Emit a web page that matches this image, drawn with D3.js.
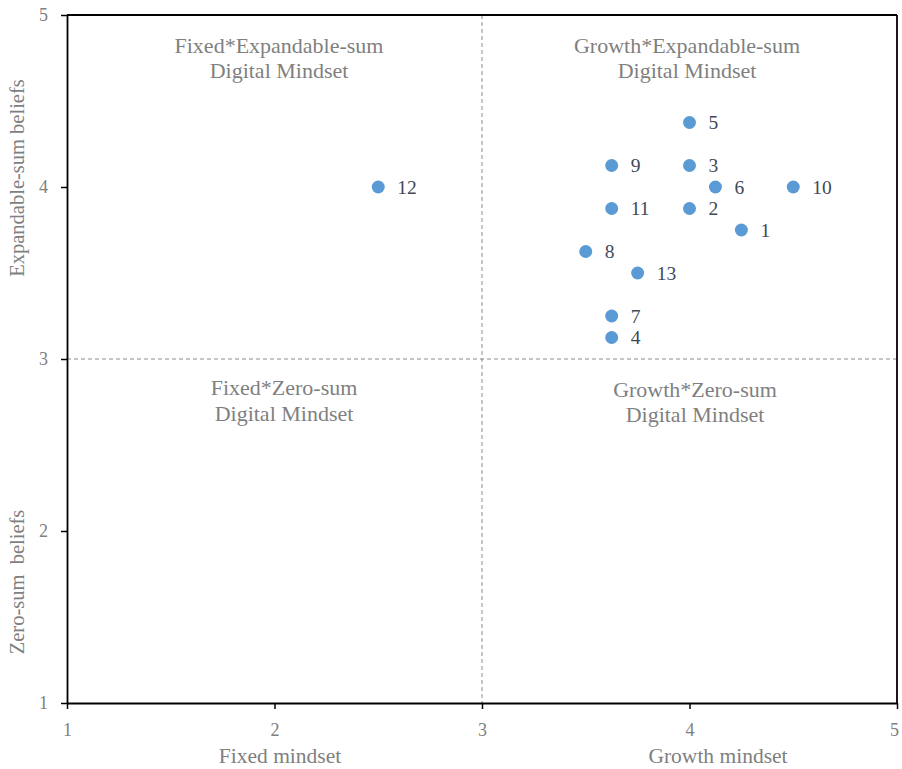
<!DOCTYPE html>
<html><head><meta charset="utf-8">
<script src="https://cdn.jsdelivr.net/npm/d3@7"></script>
<style>body{margin:0;background:#fff}svg{display:block}</style>
</head><body>
<script>
const ids = [1,2,3,4,5,6,7,8,9,10,11,12,13];
const mindsetX = [4.25,4.0,4.0,3.625,4.0,4.125,3.625,3.5,3.625,4.5,3.625,2.5,3.75];
const beliefY  = [3.75,3.875,4.125,3.125,4.375,4.0,3.25,3.625,4.125,4.0,3.875,4.0,3.5];
const tickValues = [1,2,3,4,5];
const quadrantLabels = [
  {x:2, y:4.82, lines:["Fixed*Expandable-sum","Digital Mindset"]},
  {x:4, y:4.82, lines:["Growth*Expandable-sum","Digital Mindset"]},
  {x:2, y:2.83, lines:["Fixed*Zero-sum","Digital Mindset"]},
  {x:4, y:2.82, lines:["Growth*Zero-sum","Digital Mindset"]}
];
const W=902,H=769;
const svg=d3.select("body").append("svg").attr("width",W).attr("height",H);
const x=d3.scaleLinear().domain([1,5]).range([67,897]);
const y=d3.scaleLinear().domain([1,5]).range([703,15]);
const font="'Liberation Serif','Times New Roman',serif";

// quadrant text
const qx=[279,687,284,695];
quadrantLabels.forEach((q,i)=>{
  const t=svg.append("text").attr("x",qx[i]).attr("text-anchor","middle")
    .style("font-family",font).attr("font-size",22).attr("fill","#7f7f7f");
  q.lines.forEach((l,j)=>t.append("tspan").attr("x",qx[i]).attr("y",y(q.y)+j*25.5+7).text(l));
});

// dashed lines
svg.append("line").attr("x1",x(3)).attr("x2",x(3)).attr("y1",y(5)).attr("y2",y(1))
  .attr("stroke","#8c8c8c").attr("stroke-dasharray","4,3").attr("stroke-width",1);
svg.append("line").attr("x1",x(1)).attr("x2",x(5)).attr("y1",y(3)).attr("y2",y(3))
  .attr("stroke","#8c8c8c").attr("stroke-dasharray","4,3").attr("stroke-width",1);

// axes
const fmt=d3.format("d");
const xAxis=svg.append("g").attr("transform",`translate(0,${y(1)})`)
  .call(d3.axisBottom(x).tickValues(tickValues).tickFormat(fmt).tickSize(6).tickPadding(14).tickSizeOuter(0));
const yAxis=svg.append("g").attr("transform",`translate(${x(1)},0)`)
  .call(d3.axisLeft(y).tickValues(tickValues).tickFormat(fmt).tickSize(6).tickPadding(13).tickSizeOuter(0));
[xAxis,yAxis].forEach(a=>{
  a.attr("font-family",null);
  a.select(".domain").attr("stroke","#000").attr("stroke-width",1.8);
  a.selectAll(".tick line").attr("stroke","#000").attr("stroke-width",1.5);
  a.selectAll(".tick text").style("font-family",font).attr("font-size",18).attr("fill","#808080");
});
xAxis.selectAll(".tick text").filter(d=>d===5).attr("dx",-3);
// top and right border
svg.append("line").attr("x1",x(1)).attr("x2",x(5)).attr("y1",y(5)).attr("y2",y(5)).attr("stroke","#000").attr("stroke-width",1.8);
svg.append("line").attr("x1",x(5)).attr("x2",x(5)).attr("y1",y(5)).attr("y2",y(1)).attr("stroke","#000").attr("stroke-width",1.8);

// axis titles
const titleSize=21.5;
svg.append("text").attr("x",280).attr("y",763).attr("text-anchor","middle").style("font-family",font)
  .attr("font-size",titleSize).attr("fill","#7f7f7f").text("Fixed mindset");
svg.append("text").attr("x",718).attr("y",763).attr("text-anchor","middle").style("font-family",font)
  .attr("font-size",titleSize).attr("fill","#7f7f7f").text("Growth mindset");
svg.append("text").attr("transform","translate(24,178) rotate(-90)").attr("text-anchor","middle").style("font-family",font)
  .attr("font-size",20.5).attr("fill","#7f7f7f").text("Expandable-sum beliefs");
svg.append("text").attr("transform","translate(24,582) rotate(-90)").attr("text-anchor","middle").style("font-family",font)
  .attr("font-size",20.5).attr("fill","#7f7f7f").style("white-space","pre").text("Zero-sum  beliefs");

// points
const data=ids.map((id,i)=>({id,x:mindsetX[i],y:beliefY[i]}));
svg.append("g").selectAll("circle").data(data).join("circle")
  .attr("cx",d=>x(d.x)).attr("cy",d=>y(d.y)).attr("r",6.5).attr("fill","#5b9bd5");
svg.append("g").selectAll("text").data(data).join("text")
  .attr("x",d=>x(d.x)+19).attr("y",d=>y(d.y)+6.5).style("font-family",font).attr("font-size",19.5)
  .attr("fill","#404858").text(d=>d.id);
</script>
</body></html>
